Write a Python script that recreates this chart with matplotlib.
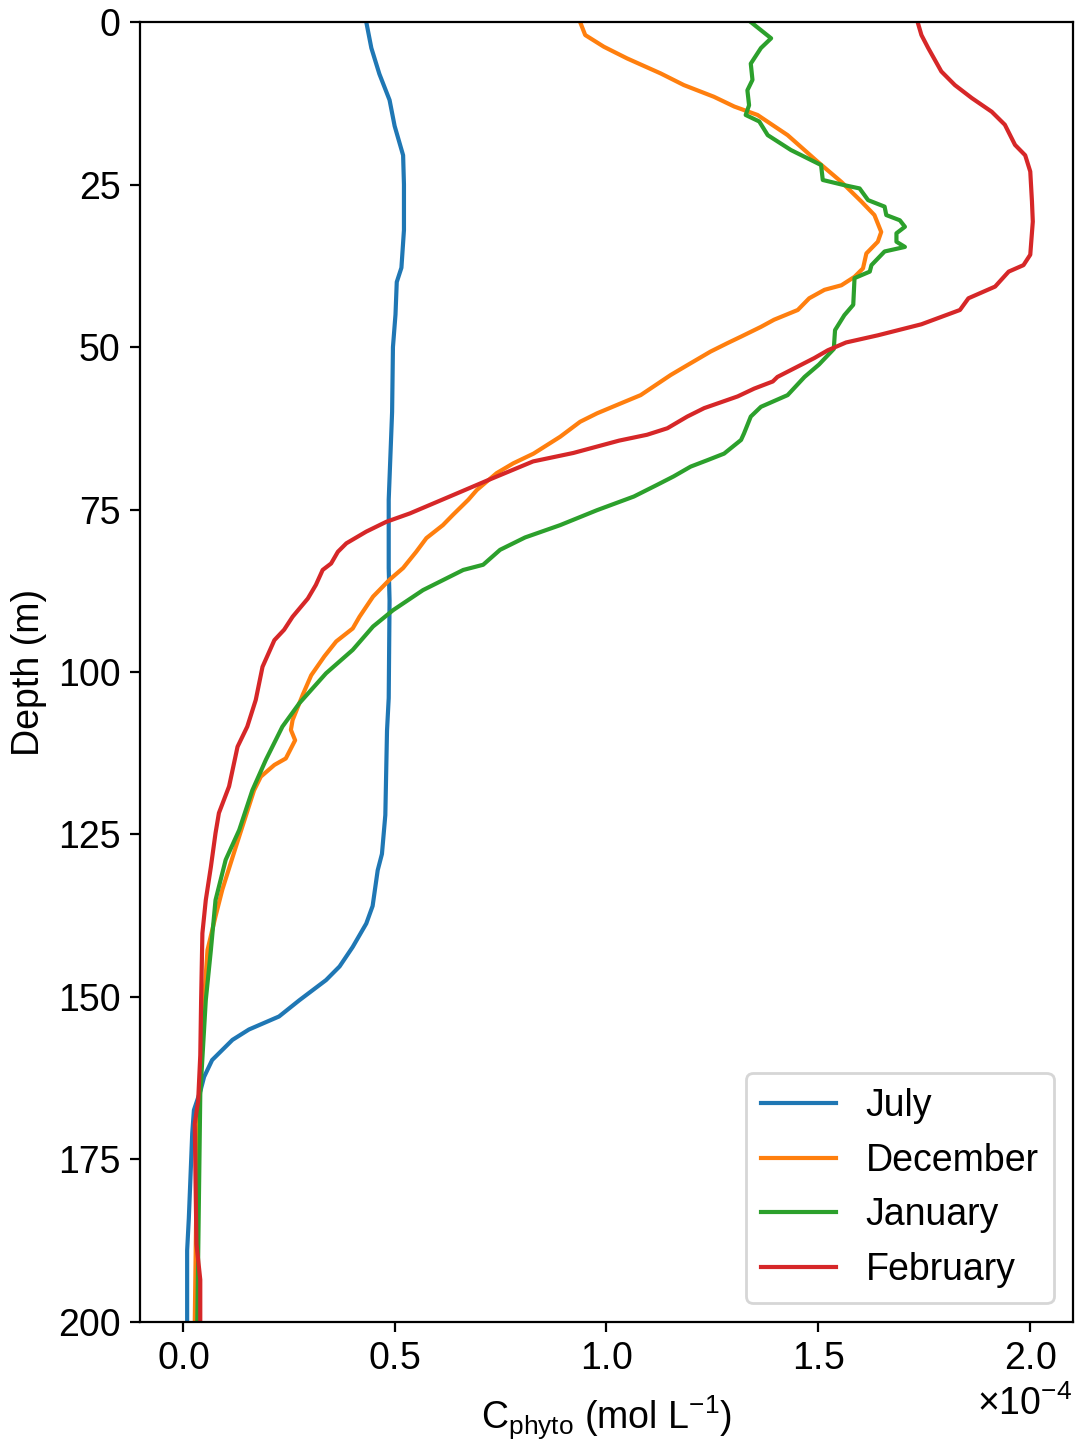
import numpy as np
import matplotlib
matplotlib.use("Agg")
import matplotlib.pyplot as plt

plt.rcParams['font.family'] = ['Liberation Sans', 'DejaVu Sans']
plt.rcParams['mathtext.fontset'] = 'custom'
plt.rcParams['mathtext.rm'] = 'Liberation Sans'
plt.rcParams['mathtext.it'] = 'Liberation Sans:italic'
plt.rcParams['mathtext.bf'] = 'Liberation Sans:bold'
plt.rcParams['font.size'] = 13.5

# phytoplankton carbon profiles, values in 1e-4 mol/L
depth_july = [0, 4, 8, 12, 16, 20.5, 25, 32, 37.8, 40, 45, 50, 60, 73.5, 84, 89,
              104, 109, 122, 128, 130.5, 136, 138.7, 142.3, 145.3, 147.4, 150.5,
              153, 155, 156.6, 159.7, 162.3, 164.3, 167.4, 171, 184, 189, 200]
c_july = [0.433, 0.445, 0.464, 0.488, 0.500, 0.520, 0.522, 0.522, 0.516, 0.505,
          0.502, 0.496, 0.494, 0.486, 0.486, 0.488, 0.486, 0.482, 0.478, 0.470,
          0.460, 0.448, 0.433, 0.401, 0.370, 0.338, 0.275, 0.227, 0.156, 0.117,
          0.069, 0.050, 0.042, 0.026, 0.022, 0.014, 0.010, 0.010]

depth_dec = [0, 2, 3.8, 5.6, 7.9, 9.7, 11.5, 13, 14.3, 17.4, 21.5, 24.6, 27.6,
             29.7, 32.3, 33.8, 35.6, 37.9, 39.2, 40.5, 41.2, 42.5, 44.3, 45.8,
             46.9, 48.4, 49.4, 50.7, 52.8, 54.3, 57.4, 58.7, 60.2, 61.5, 63.8,
             66.4, 67.9, 69.4, 72, 73.5, 75.8, 77.4, 79.4, 81.5, 84, 85.8, 88.4,
             91.5, 93.3, 95.3, 97.6, 100.5, 103.5, 107.4, 108.9, 110.5, 113.3,
             114.3, 116.1, 118.2, 126.9, 133.5, 137.6, 142.8, 150.5, 160, 170,
             185, 200]
c_dec = [0.938, 0.950, 0.994, 1.049, 1.128, 1.183, 1.254, 1.302, 1.357, 1.428,
         1.499, 1.555, 1.602, 1.633, 1.649, 1.641, 1.614, 1.606, 1.586, 1.555,
         1.515, 1.479, 1.452, 1.396, 1.365, 1.318, 1.286, 1.246, 1.191, 1.152,
         1.081, 1.033, 0.978, 0.938, 0.891, 0.828, 0.780, 0.741, 0.694, 0.674,
         0.638, 0.614, 0.575, 0.551, 0.520, 0.488, 0.449, 0.417, 0.401, 0.362,
         0.334, 0.303, 0.283, 0.259, 0.255, 0.265, 0.243, 0.216, 0.184, 0.168,
         0.125, 0.093, 0.077, 0.058, 0.050, 0.042, 0.036, 0.031, 0.028]

depth_jan = [0, 2.5, 4, 6.4, 8.9, 10.5, 12.8, 14.3, 15.3, 17.4, 19.7, 22, 24.3,
             25.1, 25.6, 27.4, 28.4, 29.7, 30.5, 31.5, 32.5, 33.8, 34.6, 35.3,
             37.4, 38.4, 39.4, 43.5, 45.1, 47.4, 50.3, 52.7, 54.6, 57.4, 59.2,
             60.7, 63.3, 64.3, 66.4, 67.4, 68.4, 69.9, 71.2, 73, 75.1, 77.4, 79.3,
             81.2, 83.5, 84.3, 87.4, 90.5, 93, 96.6, 100.2, 104.8, 108.4, 113.5,
             118.2, 124.3, 128.9, 135.1, 142.8, 150.5, 165, 200]
c_jan = [1.341, 1.389, 1.365, 1.341, 1.345, 1.333, 1.337, 1.329, 1.361, 1.381,
         1.436, 1.507, 1.511, 1.562, 1.598, 1.618, 1.657, 1.661, 1.693, 1.705,
         1.685, 1.685, 1.705, 1.657, 1.626, 1.622, 1.586, 1.583, 1.562, 1.540,
         1.537, 1.502, 1.468, 1.428, 1.365, 1.341, 1.325, 1.318, 1.278, 1.239,
         1.199, 1.159, 1.120, 1.065, 0.978, 0.891, 0.808, 0.749, 0.709, 0.662,
         0.567, 0.496, 0.449, 0.401, 0.338, 0.275, 0.235, 0.196, 0.164, 0.133,
         0.101, 0.077, 0.066, 0.054, 0.041, 0.034]

depth_feb = [0, 2, 4, 7.6, 9.7, 11.7, 13.8, 15.8, 18.9, 20.5, 23, 27.6, 30.7,
             35.8, 37.4, 38.4, 40.7, 42.5, 44.3, 46.5, 48.2, 49.3, 50.5, 51.7,
             54.6, 55.3, 56.4, 57.6, 59.4, 60.7, 62.5, 63.5, 64.4, 66.3, 67.6,
             70.5, 73, 75.6, 76.9, 78.4, 80.2, 81.5, 83.3, 84.3, 86.6, 88.7, 91.5,
             93.5, 95.1, 99.2, 104.3, 108.4, 111.5, 117.6, 121.7, 124.8, 130,
             135.1, 140.2, 150.5, 159, 166, 169.5, 188, 193.5, 200]
c_feb = [1.735, 1.744, 1.760, 1.791, 1.823, 1.863, 1.910, 1.941, 1.965, 1.989,
         2.001, 2.005, 2.007, 2.001, 1.985, 1.950, 1.918, 1.855, 1.835, 1.744,
         1.641, 1.566, 1.523, 1.491, 1.404, 1.393, 1.349, 1.310, 1.231, 1.191,
         1.144, 1.096, 1.030, 0.922, 0.827, 0.720, 0.630, 0.536, 0.480, 0.433,
         0.386, 0.366, 0.350, 0.330, 0.314, 0.295, 0.259, 0.239, 0.216, 0.188,
         0.172, 0.152, 0.129, 0.109, 0.085, 0.077, 0.066, 0.054, 0.046, 0.043,
         0.041, 0.036, 0.028, 0.032, 0.041, 0.041]

months = ['July', 'December', 'January', 'February']
depths = [depth_july, depth_dec, depth_jan, depth_feb]
values = [c_july, c_dec, c_jan, c_feb]

fig = plt.figure(figsize=(5.39, 7.25), dpi=200)
ax = fig.add_axes([0.130, 0.0883, 0.865, 0.8965])

for name, d, c in zip(months, depths, values):
    ax.plot(np.array(c) * 1e-4, d, label=name)

ax.set_ylim(200, 0)
ax.set_xlim(-0.101e-4, 2.101e-4)
ax.set_yticks(np.arange(0, 201, 25))
ax.ticklabel_format(axis='x', style='sci', scilimits=(0, 0), useMathText=True)
ax.set_xlabel(r'C$_\mathregular{phyto}$ (mol L$^\mathregular{-1}$)', labelpad=6)
ax.set_ylabel('Depth (m)')
ax.legend(loc='lower right')

fig.savefig('out.png', dpi=200)
